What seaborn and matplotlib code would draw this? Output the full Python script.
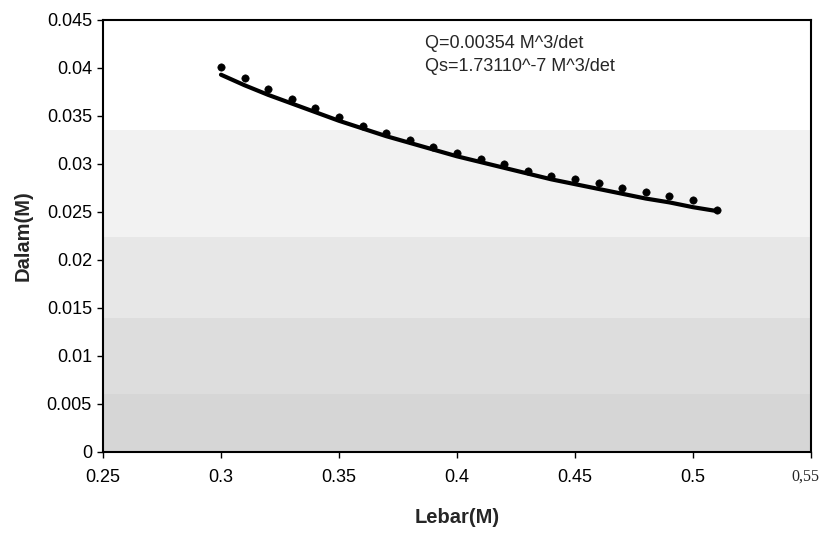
import numpy as np
import pandas as pd
import matplotlib
matplotlib.use("Agg")
import matplotlib.pyplot as plt
import seaborn as sns

# Data
lebar = [0.30, 0.31, 0.32, 0.33, 0.34, 0.35, 0.36, 0.37, 0.38, 0.39, 0.40,
         0.41, 0.42, 0.43, 0.44, 0.45, 0.46, 0.47, 0.48, 0.49, 0.50, 0.51]
dalam_obs = [0.0401, 0.0390, 0.0378, 0.0368, 0.0358, 0.0349, 0.0340, 0.0332,
             0.0325, 0.0318, 0.0311, 0.0305, 0.0300, 0.0293, 0.0288, 0.0284,
             0.0280, 0.0275, 0.0271, 0.0267, 0.0263, 0.0252]
dalam_fit = [0.0393, 0.0382, 0.0372, 0.0363, 0.0354, 0.0345, 0.0337, 0.0329,
             0.0322, 0.0315, 0.0308, 0.0302, 0.0296, 0.0290, 0.0284, 0.0279,
             0.0274, 0.0269, 0.0264, 0.0260, 0.0255, 0.0251]
x_ticks = [0.25, 0.30, 0.35, 0.40, 0.45, 0.50, 0.55]
x_tick_labels = ["0.25", "0.3", "0.35", "0.4", "0.45", "0.5", "0,55"]
y_ticks = [0, 0.005, 0.01, 0.015, 0.02, 0.025, 0.03, 0.035, 0.04, 0.045]
y_tick_labels = ["0", "0.005", "0.01", "0.015", "0.02", "0.025", "0.03", "0.035", "0.04", "0.045"]
annot_lines = ["Q=0.00354 M^3/det", "Qs=1.73110^-7 M^3/det"]

sns.set_style("white")
plt.rcParams['font.family'] = ['Liberation Sans', 'DejaVu Sans']

fig = plt.figure(figsize=(8.2, 5.33), dpi=100)
ax = fig.add_axes([0.1256, 0.152, 0.8634, 0.8105])

# shaded background bands (scanned gradient fill)
bands = [(0.0335, 0.0224, "#f2f2f2"), (0.0224, 0.014, "#e7e7e7"),
         (0.014, 0.006, "#dddddd"), (0.006, 0.0, "#d6d6d6")]
for top, bot, c in bands:
    ax.axhspan(bot, top, color=c, lw=0, zorder=0)

df_obs = pd.DataFrame({"Lebar": lebar, "Dalam": dalam_obs})
df_fit = pd.DataFrame({"Lebar": lebar, "Dalam": dalam_fit})
sns.lineplot(data=df_fit, x="Lebar", y="Dalam", ax=ax, color="black", lw=3.0, zorder=3)
sns.scatterplot(data=df_obs, x="Lebar", y="Dalam", ax=ax, color="black", s=28,
                edgecolor="black", zorder=4)

ax.set_xlim(0.25, 0.55)
ax.set_ylim(0, 0.045)
ax.set_xticks(x_ticks)
ax.set_xticklabels(x_tick_labels)
ax.set_yticks(y_ticks)
ax.set_yticklabels(y_tick_labels)
ax.tick_params(axis="both", labelsize=13, colors="black", length=4, width=1,
               direction="out", bottom=True, left=True)
ax.tick_params(axis="x", pad=8)
ax.tick_params(axis="y", pad=4)

# last x label is typeset in a serif face and sits against the right edge
last = ax.get_xticklabels()[-1]
ax.annotate(last.get_text(), xy=(x_ticks[-1], 0), xycoords=("data", "axes fraction"),
            xytext=(-20, -25), textcoords="offset pixels", ha="left", va="center",
            fontsize=11.5, family="Liberation Serif", annotation_clip=False)
last.set_visible(False)

for s in ax.spines.values():
    s.set_color("black")
    s.set_linewidth(1.5)

ax.set_xlabel("Lebar(M)", fontsize=14.5, fontweight="bold", labelpad=16)
ax.set_ylabel("Dalam(M)", fontsize=14.5, fontweight="bold", labelpad=10)

ax.text(0.3864, 0.0426, annot_lines[0], fontsize=13, va="center", ha="left")
ax.text(0.3864, 0.0402, annot_lines[1], fontsize=13, va="center", ha="left")

fig.savefig("out.png", dpi=100)
